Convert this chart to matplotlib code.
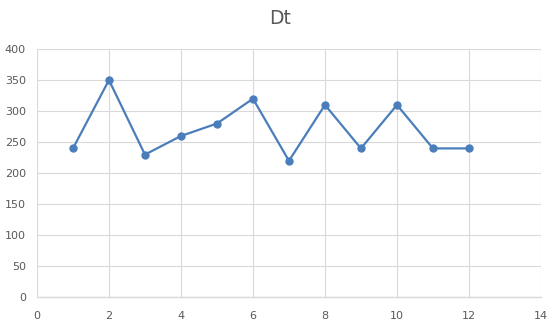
import matplotlib.pyplot as plt

# data
x_vals = [1, 2, 3, 4, 5, 6, 7, 8, 9, 10, 11, 12]
dt_vals = [240, 350, 230, 260, 280, 320, 220, 310, 240, 310, 240, 240]
x_ticks = [0, 2, 4, 6, 8, 10, 12, 14]
y_ticks = [0, 50, 100, 150, 200, 250, 300, 350, 400]

fig = plt.figure(figsize=(5.6, 3.3), dpi=100, facecolor='white')
ax = fig.add_axes([0.066, 0.0985, 0.9, 0.753])

ax.plot(x_vals, dt_vals, color='#4A7EBB', linewidth=1.6, marker='o',
        markersize=5, zorder=3)

ax.set_xlim(0, 14)
ax.set_ylim(0, 400)
ax.set_xticks(x_ticks)
ax.set_yticks(y_ticks)
ax.grid(True, color='#D9D9D9', linewidth=0.8)
ax.set_axisbelow(True)

for side in ['top', 'right', 'left']:
    ax.spines[side].set_visible(False)
ax.spines['bottom'].set_color('#D9D9D9')
ax.spines['bottom'].set_linewidth(1.0)

ax.tick_params(axis='both', length=0, labelsize=8, colors='#595959')
ax.tick_params(axis='x', pad=10)
ax.tick_params(axis='y', pad=8)

fig.text(0.5, 0.945, 'Dt', ha='center', va='center', fontsize=13.5, color='#595959')

plt.savefig('out.png', dpi=100)
